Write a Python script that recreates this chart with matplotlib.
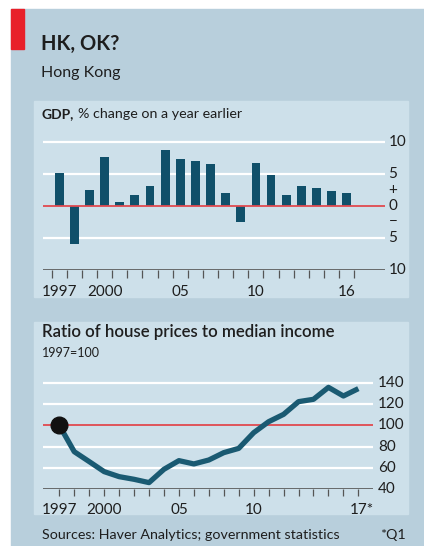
import matplotlib
matplotlib.use("Agg")
import matplotlib.pyplot as plt
from matplotlib.patches import Rectangle

# GDP, % change on a year earlier
gdp_years = list(range(1997, 2017))
gdp_growth = [5.1, -5.9, 2.5, 7.7, 0.6, 1.7, 3.1, 8.7, 7.4, 7.0,
              6.5, 2.1, -2.5, 6.8, 4.8, 1.7, 3.1, 2.8, 2.4, 2.0]

# house prices to median income, 1997=100 (2017 is Q1)
ratio_years = list(range(1997, 2018))
ratio_vals = [100, 75.3, 66, 56.6, 51.9, 49.4, 46.3, 58.8, 66.9, 63.8, 67.5,
              74.4, 78.4, 93.1, 103.4, 110.3, 122.2, 124.4, 135.6, 127.5, 134.4]

gdp_ticklabels = {1997: "1997", 2000: "2000", 2005: "05", 2010: "10", 2016: "16"}
ratio_ticklabels = {1997: "1997", 2000: "2000", 2005: "05", 2010: "10", 2017: "17*"}

OUTER = "#b8cfdc"
PANEL = "#cde0ea"
BAR = "#10506a"
LINE = "#1a5a72"
RED = "#e04a50"
TXT = "#1e1e1e"
FONT = "Lato"

W, H = 424, 546
fig = plt.figure(figsize=(W / 100, H / 100), dpi=100)
plt.rcParams["font.family"] = [FONT, "DejaVu Sans"]


def fx(px):
    return px / W


def fy(py):
    return 1 - py / H


def box(x0, y0, x1, y1, color):
    fig.patches.append(Rectangle((fx(x0), fy(y1)), fx(x1) - fx(x0), fy(y0) - fy(y1),
                                 transform=fig.transFigure, color=color, zorder=-5))


# backgrounds
box(11, 9, 424, 546, OUTER)
box(34, 101, 408, 297, PANEL)
box(34, 322, 408, 514, PANEL)
box(11, 9, 24, 49, "#e8202a")

fig.text(fx(41), fy(50), "HK, OK?", fontsize=14.5, fontweight="bold", color=TXT, va="baseline")
fig.text(fx(41), fy(77), "Hong Kong", fontsize=11.5, color=TXT, va="baseline")

# ---- GDP bars ----
# value -> pixel: y = 206 - 6.39*v ; year boundary -> x = 51.7 + 15.13*(yr-1997)
ax1 = fig.add_axes([fx(43.3), fy(206 + 6.39 * 10), fx(385) - fx(43.3), 6.39 * 21 / H])
ax1.set_xlim(1996.45, 2019.03)
ax1.set_ylim(-10, 11)
ax1.set_facecolor("none")
for s in ax1.spines.values():
    s.set_visible(False)
for v in [10, 5, -5]:
    ax1.axhline(v, color="white", lw=1.6, zorder=1)
ax1.axhline(-10, color="#555555", lw=1.2, zorder=3)
ax1.bar([y + 0.5 for y in gdp_years], gdp_growth, width=0.58, color=BAR, zorder=2)
ax1.axhline(0, color=RED, lw=1.3, zorder=3)
ax1.set_yticks([])
ax1.set_xticks(range(1997, 2018))
ax1.set_xticklabels([])
ax1.tick_params(axis="x", length=5.5, width=0.9, color="#555555", direction="out", pad=0)
for yr, lab in gdp_ticklabels.items():
    ax1.text(yr + 0.5, -13.4, lab, ha="center", va="center", fontsize=11, color=TXT, clip_on=False)
for v, lab in [(10, "10"), (5, "5"), (2.5, "+"), (0, "0"), (-2.5, "\u2212"), (-5, "5"), (-10, "10")]:
    ax1.text(1.01, v, lab, transform=ax1.get_yaxis_transform(), ha="left", va="center",
             fontsize=11, color=TXT, clip_on=False)

fig.text(fx(42), fy(118), "GDP,", fontsize=10, fontweight="bold", color=TXT, va="baseline")
fig.text(fx(78), fy(118), "% change on a year earlier", fontsize=10.3, color=TXT, va="baseline")

# ---- house price ratio ----
# value -> pixel: y = 425.33 - 1.0667*(v-100) ; year -> x = 59.3 + 14.95*(yr-1997)
ax2 = fig.add_axes([fx(43.3), fy(425.33 + 1.0667 * 60), fx(373.3) - fx(43.3), 1.0667 * 106 / H])
ax2.set_xlim(1995.93, 2018.0)
ax2.set_ylim(40, 146)
ax2.set_facecolor("none")
for s in ax2.spines.values():
    s.set_visible(False)
for v in [60, 80, 120, 140]:
    ax2.axhline(v, color="white", lw=1.6, zorder=1)
ax2.axhline(40, color="#555555", lw=1.2, zorder=3)
ax2.axhline(100, color=RED, lw=1.3, zorder=2)
ax2.plot(ratio_years, ratio_vals, color=LINE, lw=3.8, solid_joinstyle="round",
         solid_capstyle="butt", zorder=4)
ax2.plot(ratio_years[0], ratio_vals[0], "o", ms=12, color="#111111", zorder=5)
ax2.set_yticks([])
ax2.set_xticks(ratio_years)
ax2.set_xticklabels([])
ax2.tick_params(axis="x", length=5, width=0.9, color="#555555", direction="out", pad=0)
for yr, lab in ratio_ticklabels.items():
    dx = 0.25 if lab.endswith("*") else 0
    ax2.text(yr + dx, 40 - 19.5, lab, ha="center", va="center", fontsize=11, color=TXT, clip_on=False)
for v in [140, 120, 100, 80, 60, 40]:
    ax2.text(1.015, v, str(v), transform=ax2.get_yaxis_transform(), ha="left", va="center",
             fontsize=11, color=TXT, clip_on=False)

fig.text(fx(42), fy(337), "Ratio of house prices to median income", fontsize=12.1,
         fontweight="semibold", color=TXT, va="baseline")
fig.text(fx(42), fy(357), "1997=100", fontsize=9, color=TXT, va="baseline")

fig.text(fx(42), fy(539), "Sources: Haver Analytics; government statistics", fontsize=10.3,
         color=TXT, va="baseline")
fig.text(fx(406), fy(539), "*Q1", fontsize=10.3, color=TXT, ha="right", va="baseline")

fig.savefig("out.png", dpi=100, facecolor="white")
